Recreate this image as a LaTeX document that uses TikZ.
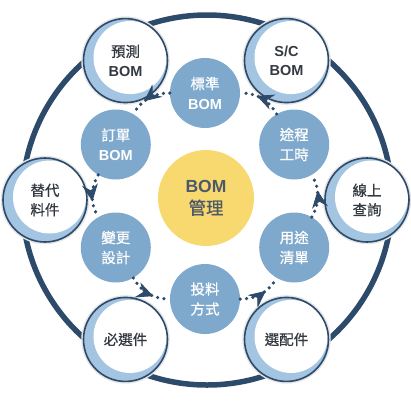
\documentclass[tikz,border=0pt]{standalone}
\usepackage{fontspec}
\setmainfont{Liberation Sans}
\newfontfamily\cjk[FakeBold=0.6]{Noto Sans CJK TC}
\usetikzlibrary{arrows.meta,decorations.markings}
\definecolor{navy}{RGB}{46,74,107}
\definecolor{paleblue}{RGB}{163,197,225}
\definecolor{midblue}{RGB}{126,169,205}
\definecolor{sun}{RGB}{248,217,112}
\definecolor{ink}{RGB}{52,58,66}
\definecolor{slate}{RGB}{76,89,105}
\tikzset{
  rim/.style={circle, minimum size=84pt, inner sep=0pt, fill=paleblue, draw=navy,
    line width=1.6pt, preaction={draw=black!10, line width=4.5pt}, text=ink, align=center,
    font=\fontsize{14.5}{19.5}\selectfont,
    path picture={\fill[white] ([shift={(4.5,3)}]path picture bounding box.center) circle (36.5);}},
  core/.style={circle, minimum size=70pt, inner sep=0pt, fill=midblue, text=white, align=center,
    font=\fontsize{14.5}{20}\selectfont},
  hub/.style={circle, minimum size=96pt, inner sep=0pt, fill=sun, text=slate, align=center,
    font=\fontsize{17.5}{22}\selectfont},
  flow/.style={navy, line width=3.6pt, line cap=round, dash pattern=on 0pt off 6.4pt,
    postaction={decorate, decoration={markings, mark=at position 0.62 with
      {\arrow[navy, line width=0.8pt]{Stealth[length=17pt, width=16pt, inset=6pt]}}}}}
}
\begin{document}
\begin{tikzpicture}[x=1pt,y=1pt]
  \useasboundingbox (-206,-200) rectangle (205,200);
  \draw[navy, line width=5.5pt] (1,0) circle (185);
  \draw
    (0:161) node[rim] (online){{\cjk 線上}\\{\cjk 查詢}}
    (60:161) node[rim] (sc){\textbf{S/C}\\\textbf{BOM}}
    (120:161) node[rim] (pred){{\cjk 預測}\\\textbf{BOM}}
    (180:161) node[rim] (alt){{\cjk 替代}\\{\cjk 料件}}
    (240:161) node[rim] (must){\cjk 必選件}
    (300:161) node[rim] (opt){\cjk 選配件};
  \begin{scope}[shift={(-1,4)}]
    \draw
      (30:103) node[core] (route){{\cjk 途程}\\{\cjk 工時}}
      (90:103) node[core] (std){{\cjk 標準}\\\textbf{BOM}}
      (150:103) node[core] (order){{\cjk 訂單}\\\textbf{BOM}}
      (210:103) node[core] (chg){{\cjk 變更}\\{\cjk 設計}}
      (270:103) node[core] (feed){{\cjk 投料}\\{\cjk 方式}}
      (330:103) node[core] (use){{\cjk 用途}\\{\cjk 清單}};
  \end{scope}
  \node[hub] (bom) at (0,2) {\textbf{BOM}\\{\cjk 管理}};
  \draw[flow] (std) to[bend right=30] (order);
  \draw[flow] (order) to[bend right=30] (chg);
  \draw[flow] (chg) to[bend right=30] (feed);
  \draw[flow] (feed) to[bend right=30] (use);
  \draw[flow] (use) to[bend right=30] (route);
  \draw[flow] (route) to[bend right=30] (std);
\end{tikzpicture}
\end{document}
